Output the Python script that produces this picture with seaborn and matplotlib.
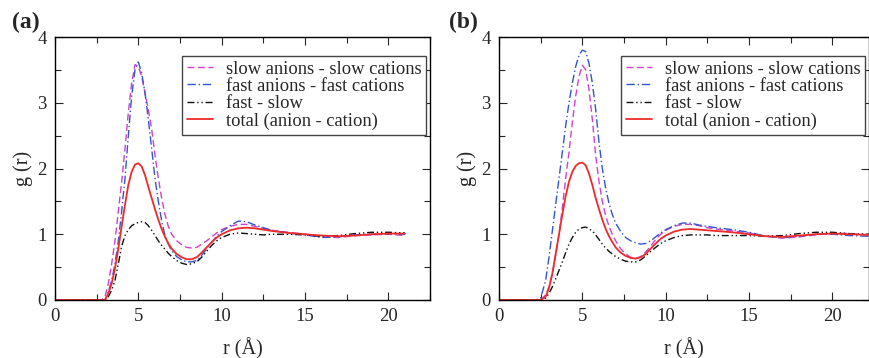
#!/usr/bin/env python3

import seaborn as sns
from matplotlib import pyplot as plt
from matplotlib.ticker import MultipleLocator

# distances (Angstrom)
r_vals = [0, 2.2, 2.5, 2.8, 3.0, 3.2, 3.4, 3.6, 3.8, 4.0, 4.2, 4.4, 4.6, 4.8, 5.0, 5.2, 5.4,
          5.6, 5.8, 6.0, 6.2, 6.4, 6.6, 6.8, 7.0, 7.3, 7.6, 7.9, 8.2, 8.5, 8.8, 9.1, 9.4, 9.7,
          10.0, 10.5, 11.0, 11.5, 12.0, 12.5, 13.0, 14.0, 15.0, 16.0, 17.0, 18.0, 19.0, 20.0, 21.0]
r_vals_b = r_vals + [22.2]

# panel (a)
slow_slow_a = [0, 0, 0, 0, 0.05, 0.25, 0.55, 0.9, 1.35, 1.8, 2.3, 2.85, 3.3, 3.58, 3.55, 3.4,
               3.15, 2.9, 2.6, 2.2, 1.85, 1.55, 1.3, 1.12, 1.0, 0.9, 0.84, 0.8, 0.79, 0.8, 0.85,
               0.9, 0.96, 1.02, 1.07, 1.12, 1.15, 1.15, 1.12, 1.09, 1.06, 1.03, 1.0, 0.96, 0.95,
               0.98, 0.99, 1.0, 0.98]
fast_fast_a = [0, 0, 0, 0, 0.0, 0.12, 0.3, 0.55, 0.9, 1.35, 1.85, 2.5, 3.1, 3.5, 3.62, 3.45,
               3.15, 2.75, 2.3, 1.85, 1.5, 1.2, 0.98, 0.85, 0.75, 0.66, 0.61, 0.58, 0.58, 0.6,
               0.68, 0.78, 0.88, 0.97, 1.04, 1.13, 1.2, 1.19, 1.14, 1.1, 1.06, 1.02, 0.99, 0.95,
               0.96, 0.99, 1.0, 1.01, 1.0]
fast_slow_a = [0, 0, 0, 0, 0.0, 0.05, 0.15, 0.3, 0.55, 0.82, 0.98, 1.07, 1.13, 1.16, 1.18, 1.19,
               1.18, 1.13, 1.06, 0.98, 0.9, 0.83, 0.77, 0.71, 0.66, 0.6, 0.56, 0.54, 0.55, 0.58,
               0.65, 0.74, 0.83, 0.9, 0.95, 1.0, 1.02, 1.01, 1.0, 0.99, 1.0, 1.0, 0.99, 0.97,
               0.98, 1.01, 1.03, 1.03, 1.02]
total_a = [0, 0, 0, 0, 0.0, 0.1, 0.25, 0.48, 0.78, 1.12, 1.45, 1.75, 1.95, 2.06, 2.08, 2.03,
           1.9, 1.72, 1.55, 1.38, 1.22, 1.08, 0.96, 0.86, 0.78, 0.7, 0.65, 0.62, 0.62, 0.65,
           0.72, 0.8, 0.88, 0.95, 1.0, 1.06, 1.09, 1.1, 1.09, 1.07, 1.05, 1.02, 1.0, 0.98, 0.97,
           0.98, 1.0, 1.01, 1.01]

# panel (b)
slow_slow_b = [0, 0, 0, 0.08, 0.2, 0.4, 0.68, 1.0, 1.4, 1.85, 2.25, 2.7, 3.1, 3.4, 3.57, 3.5,
               3.2, 2.75, 2.2, 1.8, 1.5, 1.28, 1.12, 1.0, 0.9, 0.78, 0.7, 0.65, 0.63, 0.66, 0.73,
               0.82, 0.92, 1.0, 1.06, 1.12, 1.15, 1.15, 1.13, 1.1, 1.08, 1.05, 1.02, 0.97, 0.94,
               0.96, 0.99, 1.02, 1.01, 0.99]
fast_fast_b = [0, 0, 0.03, 0.3, 0.65, 1.05, 1.45, 1.85, 2.25, 2.65, 3.0, 3.3, 3.55, 3.72, 3.8,
               3.78, 3.6, 3.3, 2.9, 2.4, 2.0, 1.7, 1.47, 1.3, 1.17, 1.04, 0.95, 0.9, 0.87, 0.85,
               0.86, 0.9, 0.96, 1.02, 1.07, 1.13, 1.17, 1.17, 1.14, 1.12, 1.1, 1.07, 1.03, 0.97,
               0.95, 0.97, 1.0, 1.0, 0.98, 0.97]
fast_slow_b = [0, 0, 0, 0.03, 0.1, 0.2, 0.32, 0.45, 0.58, 0.72, 0.85, 0.95, 1.03, 1.08, 1.1,
               1.11, 1.08, 1.05, 0.99, 0.92, 0.85, 0.79, 0.74, 0.7, 0.66, 0.62, 0.59, 0.58, 0.58,
               0.61, 0.67, 0.74, 0.8, 0.86, 0.9, 0.95, 0.98, 0.99, 0.99, 0.99, 0.98, 0.98, 0.98,
               0.97, 0.98, 1.01, 1.03, 1.03, 1.01, 1.0]
total_b = [0, 0, 0, 0.05, 0.18, 0.4, 0.7, 1.0, 1.3, 1.58, 1.8, 1.95, 2.04, 2.08, 2.09, 2.05,
           1.92, 1.75, 1.55, 1.38, 1.22, 1.08, 0.97, 0.88, 0.8, 0.72, 0.67, 0.64, 0.63, 0.65,
           0.7, 0.78, 0.86, 0.93, 0.98, 1.04, 1.07, 1.08, 1.07, 1.06, 1.05, 1.03, 1.0, 0.97,
           0.96, 0.98, 1.0, 1.01, 1.0, 0.99]

labels = ["slow anions - slow cations", "fast anions - fast cations", "fast - slow",
          "total (anion - cation)"]
colors = ["#cc44cc", "#3355cc", "#111111", "#ee2a2a"]
styles = [(0, (5, 2.5)), (0, (6, 2, 1, 2)), (0, (5, 2, 1, 2, 1, 2)), "-"]


def draw(ax, r, series, xmax):
    for y, lab, c, ls in zip(series, labels, colors, styles):
        lw = 1.3 if ls == "-" else 1.0
        sns.lineplot(x=r, y=y, ax=ax, color=c, linestyle=ls, lw=lw, label=lab)
    ax.set_xlim(0, xmax)
    ax.set_ylim(0, 4)
    ax.xaxis.set_major_locator(MultipleLocator(5))
    ax.xaxis.set_minor_locator(MultipleLocator(2.5))
    ax.yaxis.set_major_locator(MultipleLocator(1))
    ax.yaxis.set_minor_locator(MultipleLocator(0.5))
    ax.tick_params(which="both", direction="in", top=True, right=True, width=0.8)
    ax.tick_params(which="major", length=6, labelsize=13.5, pad=6)
    ax.tick_params(which="minor", length=4)
    for s in ax.spines.values():
        s.set_linewidth(1.0)
        s.set_color("black")
    ax.set_xlabel("r (Å)", fontsize=14.5, labelpad=9)
    ax.set_ylabel("g (r)", fontsize=14.5, labelpad=3)
    ax.legend(loc="upper right", bbox_to_anchor=(0.989, 0.928), borderaxespad=0,
              fontsize=13.3, frameon=True, fancybox=False, edgecolor="#444444",
              handlelength=1.4, handletextpad=0.7, labelspacing=0.02, borderpad=0.25,
              framealpha=1)
    ax.legend_.get_frame().set_linewidth(1.0)


def main():
    sns.set_theme(style="ticks")
    plt.rcParams["font.family"] = ["Liberation Serif", "DejaVu Serif"]
    plt.rcParams["axes.linewidth"] = 1.0

    fig = plt.figure(figsize=(8.7, 3.58), dpi=100)
    ax_a = fig.add_axes([55 / 870, 58 / 358, 375 / 870, 263 / 358])
    ax_b = fig.add_axes([499 / 870, 58 / 358, 370 / 870, 263 / 358])

    draw(ax_a, r_vals, [slow_slow_a, fast_fast_a, fast_slow_a, total_a], 22.5)
    draw(ax_b, r_vals_b, [slow_slow_b, fast_fast_b, fast_slow_b, total_b], 22.2)

    fig.text(12 / 870, 1 - 33 / 358, "(a)", fontsize=17, fontweight="bold",
             ha="left", va="bottom")
    fig.text(449 / 870, 1 - 33 / 358, "(b)", fontsize=17, fontweight="bold",
             ha="left", va="bottom")

    fig.savefig("out.png", dpi=100)
    plt.close(fig)


if __name__ == '__main__':
    main()
